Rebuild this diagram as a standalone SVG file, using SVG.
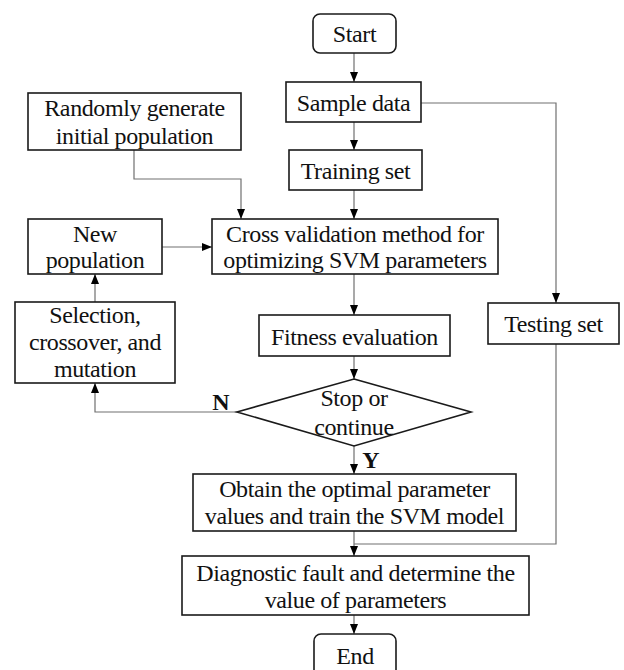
<svg xmlns="http://www.w3.org/2000/svg" width="624" height="670" viewBox="0 0 624 670">
<defs>
<marker id="ah" markerUnits="userSpaceOnUse" markerWidth="10" markerHeight="10" viewBox="0 0 10 10" refX="10" refY="5" orient="auto">
<path d="M0,1 L10,5 L0,9 Z" fill="#000"/>
</marker>
<style>
.box{fill:#fff;stroke:#1a1a1a;stroke-width:1.6}
.t{font-family:"Liberation Serif","Times New Roman",serif;font-size:24px;letter-spacing:-0.4px;fill:#111;text-anchor:middle}
.lb{font-family:"Liberation Serif","Times New Roman",serif;font-size:24px;font-weight:bold;fill:#111;text-anchor:middle}
.c{fill:none;stroke:#707070;stroke-width:1.2}
.ca{fill:none;stroke:#707070;stroke-width:1.2;marker-end:url(#ah)}
</style>
</defs>
<rect width="624" height="670" fill="#fff"/>
<g id="connectors">
<path class="ca" d="M354 53 V82"/>
<path class="ca" d="M421 103 H556 V303"/>
<path class="ca" d="M354 122 V150"/>
<path class="ca" d="M354 190 V219"/>
<path class="ca" d="M134 150 V179 H241 V219"/>
<path class="ca" d="M162 247 H212"/>
<path class="ca" d="M95 302 V274"/>
<path class="ca" d="M354 274 V315"/>
<path class="ca" d="M354 356 V379"/>
<path class="ca" d="M237 412 H95 V383"/>
<path class="ca" d="M354 446 V474"/>
<path class="c" d="M556 344 V544 H354"/>
<path class="ca" d="M354 531 V556"/>
<path class="ca" d="M354 615 V634"/>
</g>
<g id="start"><rect class="box" x="313" y="14" width="83" height="39" rx="7"/><text class="t" x="354.5" y="42">Start</text></g>
<g id="sample"><rect class="box" x="286" y="82" width="135" height="40"/><text class="t" x="353.5" y="111">Sample data</text></g>
<g id="training"><rect class="box" x="289" y="150" width="133" height="40"/><text class="t" x="355.5" y="179">Training set</text></g>
<g id="random"><rect class="box" x="28" y="93" width="213" height="57"/><text class="t" x="134.5" y="116">Randomly generate</text><text class="t" x="134.5" y="144">initial population</text></g>
<g id="cross"><rect class="box" x="212" y="219" width="286" height="55"/><text class="t" x="355" y="242">Cross validation method for</text><text class="t" x="355" y="268">optimizing SVM parameters</text></g>
<g id="newpop"><rect class="box" x="28" y="219" width="134" height="55"/><text class="t" x="95" y="242">New</text><text class="t" x="95" y="268">population</text></g>
<g id="selection"><rect class="box" x="15" y="302" width="160" height="81"/><text class="t" x="95" y="323">Selection,</text><text class="t" x="95" y="350">crossover, and</text><text class="t" x="95" y="377">mutation</text></g>
<g id="fitness"><rect class="box" x="259" y="315" width="191" height="41"/><text class="t" x="354.5" y="345">Fitness evaluation</text></g>
<g id="testing"><rect class="box" x="488" y="303" width="131" height="41"/><text class="t" x="553.5" y="332">Testing set</text></g>
<g id="decision"><polygon class="box" points="354,379 471,412 354,446 237,412"/><text class="t" x="354" y="406">Stop or</text><text class="t" x="354" y="435">continue</text></g>
<g id="labels"><text class="lb" x="221" y="410">N</text><text class="lb" x="371" y="468">Y</text></g>
<g id="obtain"><rect class="box" x="193" y="474" width="323" height="57"/><text class="t" x="354.5" y="497">Obtain the optimal parameter</text><text class="t" x="354.5" y="524">values and train the SVM model</text></g>
<g id="diagnostic"><rect class="box" x="182" y="556" width="347" height="59"/><text class="t" x="355.5" y="581">Diagnostic fault and determine the</text><text class="t" x="355.5" y="608">value of parameters</text></g>
<g id="end"><rect class="box" x="314" y="634" width="82" height="44" rx="7"/><text class="t" x="355" y="664">End</text></g>
</svg>
